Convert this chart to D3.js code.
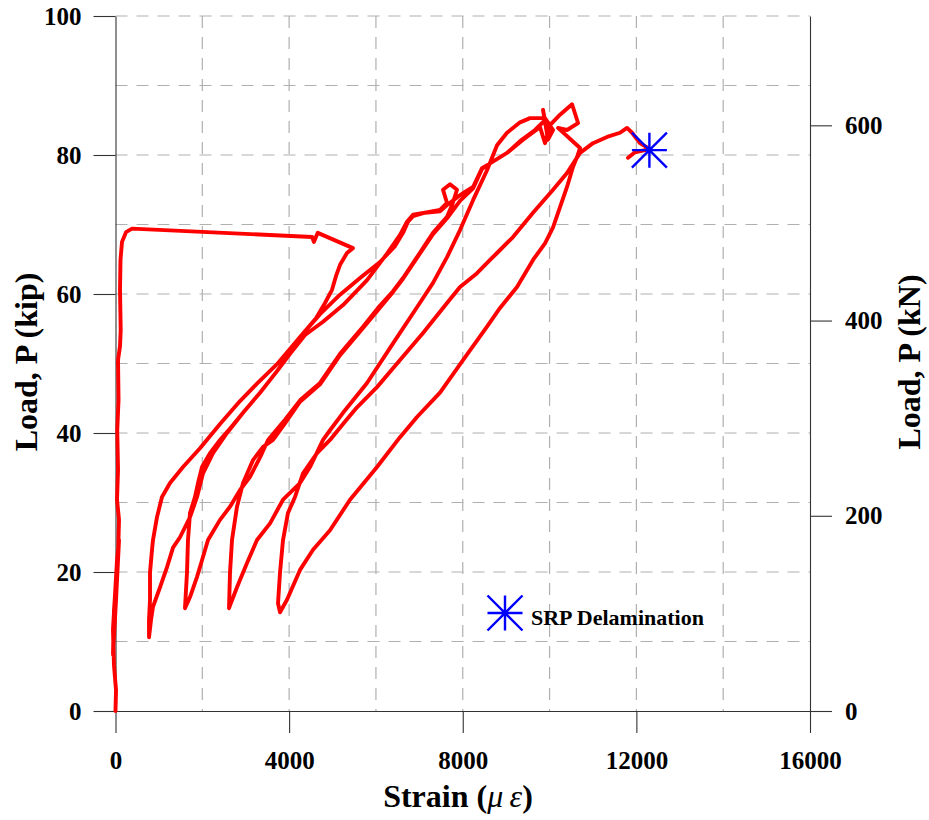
<!DOCTYPE html>
<html>
<head>
<meta charset="utf-8">
<script src="https://cdn.jsdelivr.net/npm/d3@7/dist/d3.min.js"></script>
<style>
  body { margin: 0; background: #fff; }
  text { font-family: "Liberation Serif", "Times New Roman", serif; font-weight: bold; }
</style>
</head>
<body>
<svg id="chart" width="929" height="820"></svg>
<script>
// strain (microstrain), load (kip), one array per branch
const initialLoad = [[0,0],[12,3.0],[-35,6.6],[-58,11.7],[35,21.7],[81,24.6],[12,16.0],[-58,8.1],[-35,14.5],
  [58,22.4],[81,27.5],[35,30.4],[58,34.7],[40,40.4],[70,44.8],[58,50.5],[104,52.5],[120,54.8],[104,60.6],
  [115,64.9],[150,67.5],[242,68.9],[380,69.4],[4530,68.2],[4570,67.5],[4660,68.8],[5470,66.6]];
const unload0 = [[5333,65.9],[5173,64.2],[5081,62.6],[4988,60.6],[4827,58.7],[4619,56.5],[4251,53.8],
  [4021,51.5],[3721,48.9],[3330,45.8],[2938,42.9],[2569,40.0],[2246,37.1],[2016,34.2],[1878,30.8],
  [1717,27.9],[1486,25.0],[1325,23.5],[1187,20.7],[1025,17.8],[864,15.0],[818,13.1],[772,10.6]];
const reload1 = [[772,13.1],[795,16.0],[795,19.9],[841,23.2],[864,24.6],[956,27.9],[1071,30.8],[1256,32.8],
  [1555,35.1],[1947,37.8],[2408,41.3],[2869,44.6],[3260,47.1],[3721,49.9],[4251,53.8],[4712,57.1],
  [5173,59.9],[5634,62.3],[6094,64.6],[6440,66.9],[6624,68.8],[6739,70.4],[6854,71.2],[7131,71.7],
  [7476,72.1],[7638,73.1],[7545,75.0],[7707,75.8],[7868,75.0],[7822,74.1]];
const unload1 = [[7753,72.8],[7638,71.1],[7315,68.8],[6946,65.3],[6624,62.3],[6394,60.4],[6048,58.0],
  [5703,55.3],[5403,53.1],[5173,51.4],[4712,47.2],[4251,44.7],[3905,41.9],[3514,39.0],[3330,36.5],
  [3099,33.7],[2869,31.8],[2638,29.4],[2408,27.5],[2131,24.6],[1993,21.7],[1878,19.3],[1717,16.4],[1601,14.8]];
const reload2 = [[1647,19.9],[1670,24.6],[1717,28.5],[1832,30.8],[1901,32.8],[1993,35.1],[2177,37.1],
  [2408,39.0],[2592,40.3],[2938,42.9],[3330,45.8],[3721,48.9],[4021,51.4],[4366,54.1],[4781,56.0],
  [5242,58.4],[5795,62.0],[6255,65.8],[6555,68.5],[6716,70.4],[6854,71.4],[7131,71.7],[7476,71.9],
  [7638,72.8],[7891,74.0],[8052,74.7],[8237,75.4],[8444,78.1],[8629,78.8],[9020,80.3],[9320,82.0],
  [9665,83.6],[9895,85.0],[9849,86.5],[9964,82.2],[10080,83.6],[9895,85.3]];
const unload2 = [[9550,85.3],[9320,84.7],[9020,83.2],[8790,81.4],[8559,77.8],[8237,73.5],[7937,69.2],
  [7638,65.3],[7315,61.6],[6946,58.1],[6394,52.9],[5795,47.2],[5242,42.9],[4942,40.4],[4781,39.0],
  [4481,35.1],[4251,32.8],[3859,30.4],[3560,27.0],[3260,24.6],[3030,21.3],[2799,17.8],[2615,14.8]];
const reload3 = [[2638,19.9],[2684,24.6],[2799,29.4],[2938,32.8],[3168,36.1],[3399,38.0],[3629,39.0],
  [3905,41.4],[4251,44.5],[4712,47.0],[5173,51.2],[5703,55.1],[6394,60.3],[6624,62.2],[6946,65.2],
  [7315,68.6],[7638,70.9],[7937,73.4],[8237,75.2],[8444,78.0],[8629,78.8],[9020,80.3],[9389,82.2],
  [9780,84.0],[9895,81.7],[10010,84.3],[10241,85.8],[10518,87.3],[10656,84.6],[10402,83.6],
  [10195,83.9],[10633,81.4],[10702,81.0]];
const unload3 = [[10633,79.7],[10541,78.3],[10402,75.4],[10241,72.5],[10080,69.6],[9895,67.3],[9619,64.9],
  [9250,61.0],[8859,58.0],[8559,55.3],[8006,50.5],[7476,45.8],[6946,42.3],[6555,39.4],[6025,35.1],
  [5403,30.4],[4942,26.0],[4551,23.2],[4251,20.3],[3951,16.0],[3790,14.2]];
const reload4 = [[3744,15.5],[3790,19.9],[3859,24.6],[3974,28.5],[4136,30.8],[4320,34.2],[4643,37.1],
  [4942,39.0],[5242,41.3],[5564,43.7],[6025,46.6],[6555,50.5],[7085,54.4],[7638,58.7],[7937,61.0],
  [8329,63.0],[8629,64.9],[8790,65.9],[9158,68.2],[9619,71.7],[10080,75.0],[10402,77.4],[10702,80.3],
  [11001,81.7],[11324,82.6],[11623,83.2],[11785,83.9],[11900,83.2],[12085,81.7],[12269,81.0],
  [12200,80.7],[11969,80.4],[11808,79.6]];
const delamination = [[12300, 80.7]];

const strainTicks = [0, 4000, 8000, 12000, 16000];
const kipTicks = [0, 20, 40, 60, 80, 100];
const kNTicks = [0, 200, 400, 600];
const strainGrid = [2000, 4000, 6000, 8000, 10000, 12000, 14000];
const kipGrid = [10, 20, 30, 40, 50, 60, 70, 80, 90, 100];

const svg = d3.select("#chart");
const mLeft = 115.5, mRight = 810, mTop = 16, mBottom = 711;

const x = d3.scaleLinear().domain([0, 16000]).range([mLeft, mRight]);
const y = d3.scaleLinear().domain([0, 100]).range([mBottom, mTop]);
const y2 = d3.scaleLinear().domain([0, 712]).range([mBottom, mTop]);

// dashed grid
const grid = svg.append("g").attr("stroke", "#b0b0b0").attr("stroke-width", 1.2)
  .attr("stroke-dasharray", "12,9").attr("fill", "none");
grid.selectAll("line.h").data(kipGrid).join("line").attr("class", "h")
  .attr("x1", mLeft).attr("x2", mRight).attr("y1", d => y(d)).attr("y2", d => y(d));
grid.selectAll("line.v").data(strainGrid).join("line").attr("class", "v")
  .attr("y1", mTop).attr("y2", mBottom).attr("x1", d => x(d)).attr("x2", d => x(d));

// axes
const fmt = d3.format("d");
function styleAxis(g) {
  g.selectAll("path, line").attr("stroke", "#333").attr("stroke-width", 1.1);
  g.selectAll("text").attr("fill", "#000").style("font-size", "25px")
    .style("font-family", '"Liberation Serif", "Times New Roman", serif').style("font-weight", "bold");
}
svg.append("g").attr("transform", `translate(${mLeft},0)`)
  .call(d3.axisLeft(y).tickValues(kipTicks).tickFormat(fmt).tickSize(22).tickSizeOuter(0).tickPadding(12))
  .call(styleAxis);
svg.append("g").attr("transform", `translate(0,${mBottom})`)
  .call(d3.axisBottom(x).tickValues(strainTicks).tickFormat(fmt).tickSize(22).tickSizeOuter(0).tickPadding(18))
  .call(styleAxis);
svg.append("g").attr("transform", `translate(${mRight},0)`)
  .call(d3.axisRight(y2).tickValues(kNTicks).tickFormat(fmt).tickSize(22).tickSizeOuter(0).tickPadding(13))
  .call(styleAxis);

// load-strain curve
const loadPath = [].concat(initialLoad, unload0, reload1, unload1, reload2, unload2, reload3, unload3, reload4);
const line = d3.line().x(d => x(d[0])).y(d => y(d[1]));
svg.append("path").datum(loadPath)
  .attr("d", line)
  .attr("fill", "none")
  .attr("stroke", "#ff0000")
  .attr("stroke-width", 3.9)
  .attr("stroke-linejoin", "round")
  .attr("stroke-linecap", "round");

// asterisk marker
const starPath = r => `M${-r},0L${r},0M0,${-r}L0,${r}M${-r},${-r}L${r},${r}M${-r},${r}L${r},${-r}`;
svg.selectAll("path.star").data(delamination).join("path").attr("class", "star")
  .attr("transform", d => `translate(${x(d[0])},${y(d[1])})`)
  .attr("d", starPath(17.5))
  .attr("stroke", "#0000ff").attr("stroke-width", 2.4).attr("fill", "none");

// legend
svg.append("path").attr("transform", "translate(505,613)").attr("d", starPath(17.5))
  .attr("stroke", "#0000ff").attr("stroke-width", 2.4).attr("fill", "none");
svg.append("text").attr("x", 531).attr("y", 625).style("font-size", "22px").text("SRP Delamination");

// axis titles
const xt = svg.append("text").attr("x", 458).attr("y", 807).attr("text-anchor", "middle").style("font-size", "32px");
xt.append("tspan").text("Strain (");
xt.append("tspan").style("font-style", "italic").style("font-weight", "normal").text("μ\u2009ε");
xt.append("tspan").text(")");

svg.append("text").attr("transform", "translate(37,362) rotate(-90)")
  .attr("text-anchor", "middle").style("font-size", "32px").text("Load, P (kip)");
svg.append("text").attr("transform", "translate(920,362) rotate(-90)")
  .attr("text-anchor", "middle").style("font-size", "32px").text("Load, P (kN)");
</script>
</body>
</html>
